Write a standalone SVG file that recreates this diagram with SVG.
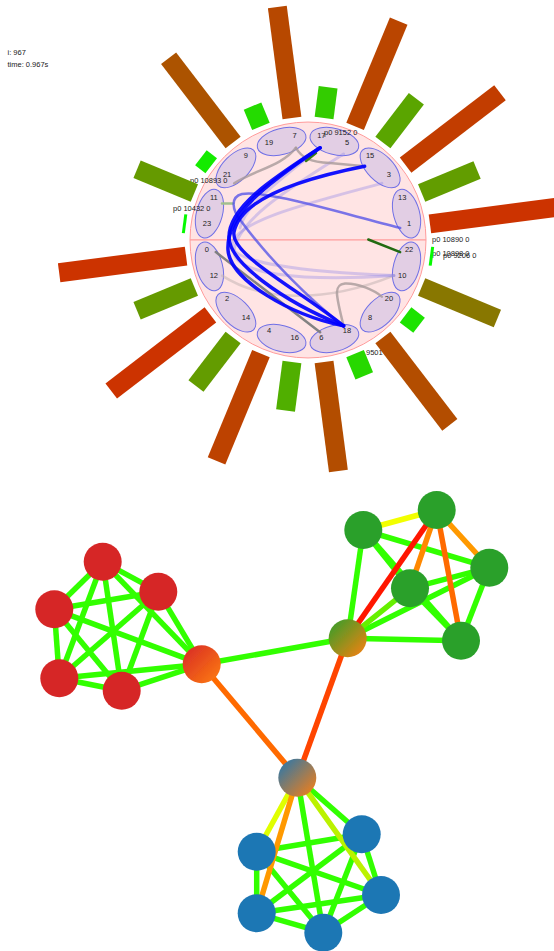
<svg xmlns="http://www.w3.org/2000/svg" width="554" height="951" viewBox="0 0 554 951">
<defs>
<style>
text{font-family:"Liberation Sans",Arial,sans-serif;fill:#222}
.info{font-size:7.5px}
.lab{font-size:7.5px;text-anchor:middle}
.plab{font-size:7.5px}
.half{fill:#ffe4e4;stroke:#ff9c9c;stroke-width:1}
.ell{fill:#e2cee4;stroke:#6f6fe6;stroke-width:1}
.ch{fill:none;stroke-linecap:round}
.blue{stroke:#0000ff;stroke-width:3.5;opacity:0.92}
.med{stroke:#4e4ee8;stroke-width:2.5;opacity:0.75}
.faint{stroke:#8a80e8;stroke-width:3;opacity:0.35}
.gray{stroke:#7c7c7c;stroke-width:2.5;opacity:0.95}
.tan{stroke:#a89a9a;stroke-width:2.5;opacity:0.8}
.ltan{stroke:#c4b4b4;stroke-width:2.5;opacity:0.55}
.e{stroke-width:5.5;fill:none}
.eg{stroke:#33ff00}
.ey{stroke:#f2ff00}
.eyg{stroke:#bbf200}
.eyl{stroke:#e0ff00}
.elg{stroke:#66f000}
.eo1{stroke:#ff9900}
.eo2{stroke:#ff8800}
.eo3{stroke:#ff6a00}
.eo4{stroke:#ff4400}
.er{stroke:#ff1500}
.nd{stroke:none}
</style>
<filter id="soft" x="-20%" y="-20%" width="140%" height="140%"><feGaussianBlur stdDeviation="0.7"/></filter>
<filter id="softe" x="-5%" y="-5%" width="110%" height="110%"><feGaussianBlur stdDeviation="0.45"/></filter>
<linearGradient id="grR" x1="0" y1="0" x2="1" y2="1"><stop offset="0" stop-color="#d62728"/><stop offset="1" stop-color="#ff7f0e"/></linearGradient>
<linearGradient id="grG" x1="0" y1="0" x2="1" y2="1"><stop offset="0" stop-color="#2ca02c"/><stop offset="1" stop-color="#ff7f0e"/></linearGradient>
<linearGradient id="grB" x1="0" y1="0" x2="1" y2="1"><stop offset="0" stop-color="#1f77b4"/><stop offset="1" stop-color="#ff7f0e"/></linearGradient>
</defs>

<text class="info" x="7.5" y="55">i: 967</text>
<text class="info" x="7.5" y="67">time: 0.967s</text>

<g id="ring">
<path class="half" d="M190,240 A118,118 0 0 1 426,240 Z"/>
<path class="half" d="M190,240 A118,118 0 0 0 426,240 Z"/>
</g>

<g id="ring-nodes">
<g id="n13-1"><ellipse class="ell" cx="410" cy="240" rx="13" ry="25" transform="rotate(-15 308 240)"/><text class="lab" x="402.2" y="200">13</text><text class="lab" x="409.1" y="225.7">1</text></g>
<g id="n15-3"><ellipse class="ell" cx="410" cy="240" rx="13" ry="25" transform="rotate(-45 308 240)"/><text class="lab" x="370.1" y="158.1">15</text><text class="lab" x="388.9" y="176.9">3</text></g>
<g id="n17-5"><ellipse class="ell" cx="410" cy="240" rx="13" ry="25" transform="rotate(-75 308 240)"/><text class="lab" x="321.3" y="137.9">17</text><text class="lab" x="347" y="144.8">5</text></g>
<g id="n19-7"><ellipse class="ell" cx="410" cy="240" rx="13" ry="25" transform="rotate(-105 308 240)"/><text class="lab" x="269" y="144.8">19</text><text class="lab" x="294.7" y="137.9">7</text></g>
<g id="n9-21"><ellipse class="ell" cx="410" cy="240" rx="13" ry="25" transform="rotate(-135 308 240)"/><text class="lab" x="245.9" y="158.1">9</text><text class="lab" x="227.1" y="176.9">21</text></g>
<g id="n11-23"><ellipse class="ell" cx="410" cy="240" rx="13" ry="25" transform="rotate(-165 308 240)"/><text class="lab" x="213.8" y="200">11</text><text class="lab" x="206.9" y="225.7">23</text></g>
<g id="n0-12"><ellipse class="ell" cx="410" cy="240" rx="13" ry="25" transform="rotate(-195 308 240)"/><text class="lab" x="206.9" y="252.3">0</text><text class="lab" x="213.8" y="278">12</text></g>
<g id="n2-14"><ellipse class="ell" cx="410" cy="240" rx="13" ry="25" transform="rotate(-225 308 240)"/><text class="lab" x="227.1" y="301.1">2</text><text class="lab" x="245.9" y="319.9">14</text></g>
<g id="n4-16"><ellipse class="ell" cx="410" cy="240" rx="13" ry="25" transform="rotate(-255 308 240)"/><text class="lab" x="269" y="333.2">4</text><text class="lab" x="294.7" y="340.1">16</text></g>
<g id="n6-18"><ellipse class="ell" cx="410" cy="240" rx="13" ry="25" transform="rotate(-285 308 240)"/><text class="lab" x="321.3" y="340.1">6</text><text class="lab" x="347" y="333.2">18</text></g>
<g id="n8-20"><ellipse class="ell" cx="410" cy="240" rx="13" ry="25" transform="rotate(-315 308 240)"/><text class="lab" x="370.1" y="319.9">8</text><text class="lab" x="388.9" y="301.1">20</text></g>
<g id="n22-10"><ellipse class="ell" cx="410" cy="240" rx="13" ry="25" transform="rotate(-345 308 240)"/><text class="lab" x="409.1" y="252.3">22</text><text class="lab" x="402.2" y="278">10</text></g>
</g>

<g id="chords">
<path class="ch ltan" d="M222.1,275.6 C260,300 320,305 393.9,275.6"/>
<path class="ch faint" d="M381.8,183.4 C300,205 235,222 232,245 C231,262 300,272 393.9,275.6"/>
<path class="ch faint" d="M343.6,154.1 C290,188 240,218 234,250 C232,274 300,282 393.9,275.6"/>
<path class="ch faint" d="M320.1,147.8 C280,180 245,205 240,228"/>
<path class="ch tan" d="M234.2,183.4 C255,170 282,166 295.9,147.8"/>
<path class="ch tan" d="M295.9,147.8 C302,158 310,162 330,163 L364.6,166.2"/>
<path class="ch tan" d="M343.6,325.9 C335,292 334,285 345,283.5 C358,283 374,290 381.8,296.6"/>
<path class="ch gray" d="M215.8,252.1 L320.1,332.2"/>
<path class="ch" stroke="#3a7a1a" stroke-width="2.5" d="M306,161 L316,153"/>
<path class="ch" stroke="#236b12" stroke-width="2.5" d="M368.3,239.5 L400.2,252.1"/>
<path class="ch" stroke="#a2c08e" stroke-width="2.5" d="M222,203.5 L233,203.5"/>
<path class="ch med" d="M400.2,227.9 C330,210 265,190 242,194 C230,197 232,210 241,221 C268,258 310,300 343.6,325.9"/>
<path class="ch blue" d="M320.1,147.8 C265,185 226,215 228,250 C230,280 290,315 343.6,325.9"/>
<path class="ch blue" d="M320.1,147.8 C270,180 228,208 229,238 C230,262 280,300 343.6,325.9"/>
<path class="ch blue" d="M364.6,166.2 C295,180 240,200 234,232 C230,255 300,290 343.6,325.9"/>
</g>

<g id="ring-labels">
<text class="plab" x="324" y="134.5">p0 9152 0</text>
<text class="plab" x="190" y="182.5">p0 10893 0</text>
<text class="plab" x="173" y="211">p0 10432 0</text>
<text class="plab" x="432" y="241.5">p0 10890 0</text>
<text class="plab" x="432" y="255.5">p0 10898 0</text>
<text class="plab" x="443" y="257.5">p0 9206 0</text>
<text class="plab" x="366" y="355.3">9501</text>
</g>

<g id="bars" transform="translate(308,240)">
<rect x="123" y="-9.5" width="150" height="19" fill="#cc3300" transform="rotate(-7.5)"/>
<rect x="123" y="-9.5" width="60" height="19" fill="#629d00" transform="rotate(-22.5)"/>
<rect x="123" y="-9.5" width="119" height="19" fill="#c23d00" transform="rotate(-37.5)"/>
<rect x="123" y="-9.5" width="55" height="19" fill="#5aa500" transform="rotate(-52.5)"/>
<rect x="123" y="-9.5" width="114" height="19" fill="#ba4500" transform="rotate(-67.5)"/>
<rect x="123" y="-9.5" width="31" height="19" fill="#33cc00" transform="rotate(-82.5)"/>
<rect x="123" y="-9.5" width="112" height="19" fill="#b74800" transform="rotate(-97.5)"/>
<rect x="123" y="-9.5" width="22" height="19" fill="#24db00" transform="rotate(-112.5)"/>
<rect x="123" y="-9.5" width="106" height="19" fill="#ac5300" transform="rotate(-127.5)"/>
<rect x="122" y="-9.5" width="13" height="19" fill="#14eb00" transform="rotate(-142.5)"/>
<rect x="123" y="-9.5" width="62" height="19" fill="#659a00" transform="rotate(-157.5)"/>
<rect x="123" y="-9.5" width="3" height="19" fill="#05fa00" transform="rotate(-172.5)"/>
<rect x="123" y="-9.5" width="128" height="19" fill="#cc3300" transform="rotate(-187.5)"/>
<rect x="123" y="-9.5" width="62" height="19" fill="#659a00" transform="rotate(-202.5)"/>
<rect x="123" y="-9.5" width="125" height="19" fill="#cc3300" transform="rotate(-217.5)"/>
<rect x="123" y="-9.5" width="61" height="19" fill="#639c00" transform="rotate(-232.5)"/>
<rect x="123" y="-9.5" width="116" height="19" fill="#bd4200" transform="rotate(-247.5)"/>
<rect x="123" y="-9.5" width="49" height="19" fill="#50af00" transform="rotate(-262.5)"/>
<rect x="123" y="-9.5" width="110" height="19" fill="#b34d00" transform="rotate(-277.5)"/>
<rect x="123" y="-9.5" width="24" height="19" fill="#27d800" transform="rotate(-292.5)"/>
<rect x="123" y="-9.5" width="110" height="19" fill="#b34d00" transform="rotate(-307.5)"/>
<rect x="123" y="-9.5" width="17" height="19" fill="#1ce300" transform="rotate(-322.5)"/>
<rect x="123" y="-9.5" width="82" height="19" fill="#887700" transform="rotate(-337.5)"/>
<rect x="123" y="-9.5" width="3" height="19" fill="#05fa00" transform="rotate(-352.5)"/>
</g>

<g id="connectors" filter="url(#softe)">
<line class="e eg" x1="102.7" y1="561.7" x2="158.3" y2="591.7"/>
<line class="e eg" x1="102.7" y1="561.7" x2="54.3" y2="609.3"/>
<line class="e eg" x1="102.7" y1="561.7" x2="59.3" y2="678.3"/>
<line class="e eg" x1="102.7" y1="561.7" x2="121.7" y2="690.7"/>
<line class="e eg" x1="102.7" y1="561.7" x2="201.7" y2="664.3"/>
<line class="e eg" x1="158.3" y1="591.7" x2="54.3" y2="609.3"/>
<line class="e eg" x1="158.3" y1="591.7" x2="59.3" y2="678.3"/>
<line class="e eg" x1="158.3" y1="591.7" x2="121.7" y2="690.7"/>
<line class="e eg" x1="158.3" y1="591.7" x2="201.7" y2="664.3"/>
<line class="e eg" x1="54.3" y1="609.3" x2="59.3" y2="678.3"/>
<line class="e eg" x1="54.3" y1="609.3" x2="121.7" y2="690.7"/>
<line class="e eg" x1="54.3" y1="609.3" x2="201.7" y2="664.3"/>
<line class="e eg" x1="59.3" y1="678.3" x2="121.7" y2="690.7"/>
<line class="e eg" x1="59.3" y1="678.3" x2="201.7" y2="664.3"/>
<line class="e eg" x1="121.7" y1="690.7" x2="201.7" y2="664.3"/>
<line class="e eg" x1="201.7" y1="664.3" x2="347.7" y2="638.3"/>
<line class="e eo3" x1="201.7" y1="664.3" x2="297.3" y2="777.7"/>
<line class="e eo4" x1="347.7" y1="638.3" x2="297.3" y2="777.7"/>
<line class="e ey" x1="363.3" y1="530" x2="436.7" y2="510"/>
<line class="e eg" x1="363.3" y1="530" x2="489.3" y2="567.7"/>
<line class="e eg" x1="363.3" y1="530" x2="410" y2="588.3"/>
<line class="e eg" x1="363.3" y1="530" x2="461" y2="640.7"/>
<line class="e eg" x1="363.3" y1="530" x2="347.7" y2="638.3"/>
<line class="e eg" x1="489.3" y1="567.7" x2="410" y2="588.3"/>
<line class="e eg" x1="489.3" y1="567.7" x2="461" y2="640.7"/>
<line class="e eg" x1="489.3" y1="567.7" x2="347.7" y2="638.3"/>
<line class="e eg" x1="410" y1="588.3" x2="461" y2="640.7"/>
<line class="e elg" x1="410" y1="588.3" x2="347.7" y2="638.3"/>
<line class="e eg" x1="461" y1="640.7" x2="347.7" y2="638.3"/>
<line class="e eo1" x1="436.7" y1="510" x2="489.3" y2="567.7"/>
<line class="e eo2" x1="436.7" y1="510" x2="410" y2="588.3"/>
<line class="e eo3" x1="436.7" y1="510" x2="461" y2="640.7"/>
<line class="e er" x1="436.7" y1="510" x2="347.7" y2="638.3"/>
<line class="e eg" x1="256.7" y1="851.7" x2="361.7" y2="834.3"/>
<line class="e eg" x1="256.7" y1="851.7" x2="381" y2="895"/>
<line class="e eg" x1="256.7" y1="851.7" x2="256.7" y2="913.3"/>
<line class="e eg" x1="256.7" y1="851.7" x2="323.3" y2="932.7"/>
<line class="e eg" x1="361.7" y1="834.3" x2="381" y2="895"/>
<line class="e eg" x1="361.7" y1="834.3" x2="256.7" y2="913.3"/>
<line class="e eg" x1="361.7" y1="834.3" x2="323.3" y2="932.7"/>
<line class="e eg" x1="381" y1="895" x2="256.7" y2="913.3"/>
<line class="e eg" x1="381" y1="895" x2="323.3" y2="932.7"/>
<line class="e eg" x1="256.7" y1="913.3" x2="323.3" y2="932.7"/>
<line class="e eg" x1="297.3" y1="777.7" x2="361.7" y2="834.3"/>
<line class="e eg" x1="297.3" y1="777.7" x2="323.3" y2="932.7"/>
<line class="e eyg" x1="297.3" y1="777.7" x2="381" y2="895"/>
<line class="e eyl" x1="297.3" y1="777.7" x2="256.7" y2="851.7"/>
<line class="e eo1" x1="297.3" y1="777.7" x2="256.7" y2="913.3"/>
</g>

<g id="graph-nodes" filter="url(#soft)">
<g id="r1"><circle class="nd" cx="102.7" cy="561.7" r="19" fill="#d62728"/></g>
<g id="r2"><circle class="nd" cx="158.3" cy="591.7" r="19" fill="#d62728"/></g>
<g id="r3"><circle class="nd" cx="54.3" cy="609.3" r="19" fill="#d62728"/></g>
<g id="r4"><circle class="nd" cx="59.3" cy="678.3" r="19" fill="#d62728"/></g>
<g id="r5"><circle class="nd" cx="121.7" cy="690.7" r="19" fill="#d62728"/></g>
<g id="rh"><circle class="nd" cx="201.7" cy="664.3" r="19" fill="url(#grR)"/></g>
<g id="g1"><circle class="nd" cx="363.3" cy="530" r="19" fill="#2ca02c"/></g>
<g id="g2"><circle class="nd" cx="436.7" cy="510" r="19" fill="#2ca02c"/></g>
<g id="g3"><circle class="nd" cx="489.3" cy="567.7" r="19" fill="#2ca02c"/></g>
<g id="g4"><circle class="nd" cx="410" cy="588.3" r="19" fill="#2ca02c"/></g>
<g id="g5"><circle class="nd" cx="461" cy="640.7" r="19" fill="#2ca02c"/></g>
<g id="gh"><circle class="nd" cx="347.7" cy="638.3" r="19" fill="url(#grG)"/></g>
<g id="bh"><circle class="nd" cx="297.3" cy="777.7" r="19" fill="url(#grB)"/></g>
<g id="b1"><circle class="nd" cx="256.7" cy="851.7" r="19" fill="#1f77b4"/></g>
<g id="b2"><circle class="nd" cx="361.7" cy="834.3" r="19" fill="#1f77b4"/></g>
<g id="b3"><circle class="nd" cx="381" cy="895" r="19" fill="#1f77b4"/></g>
<g id="b4"><circle class="nd" cx="256.7" cy="913.3" r="19" fill="#1f77b4"/></g>
<g id="b5"><circle class="nd" cx="323.3" cy="932.7" r="19" fill="#1f77b4"/></g>
</g>
</svg>
